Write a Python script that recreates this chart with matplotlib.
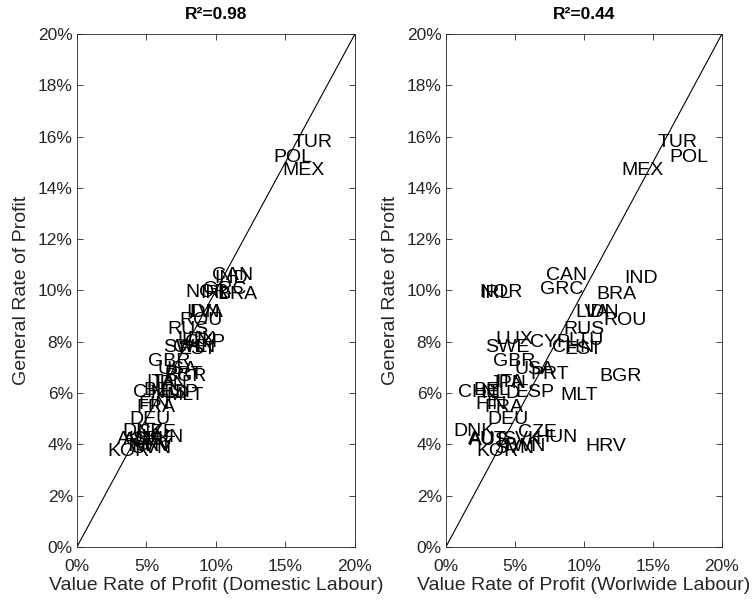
import numpy as np
import matplotlib
matplotlib.use('Agg')
from matplotlib import pyplot as plt
from matplotlib.ticker import FuncFormatter

# country codes
paises = ['TUR', 'POL', 'MEX', 'IND', 'CAN', 'GRC', 'NOR', 'IRL', 'BRA', 'LVA',
          'IDN', 'ROU', 'RUS', 'LUX', 'CYP', 'LTU', 'CHN', 'EST', 'SWE', 'GBR',
          'USA', 'PRT', 'BGR', 'ITA', 'JPN', 'ESP', 'CHE', 'BEL', 'NLD', 'MLT',
          'FIN', 'FRA', 'DEU', 'CZE', 'DNK', 'AUT', 'AUS', 'SVK', 'HUN', 'HRV',
          'SVN', 'TWN', 'KOR']

# general rate of profit (%), same for both panels
grp = [15.76, 15.18, 14.67, 10.47, 10.58, 10.04, 9.92, 9.88, 9.84, 9.14,
       9.14, 8.83, 8.48, 8.10, 7.98, 8.05, 7.78, 7.70, 7.78, 7.24,
       6.93, 6.73, 6.65, 6.42, 6.35, 6.03, 6.03, 6.10, 5.98, 5.91,
       5.56, 5.45, 4.98, 4.47, 4.50, 4.20, 4.15, 4.20, 4.28, 3.93,
       3.85, 3.90, 3.70]

# value rate of profit, domestic labour (%)
vrp_dom = [15.5, 14.1, 14.75, 9.9, 9.7, 9.06, 7.77, 8.85, 10.1, 8.1,
           7.84, 7.4, 6.5, 7.2, 7.8, 7.5, 6.9, 7.3, 6.2, 5.1,
           5.8, 6.3, 6.3, 5.0, 5.3, 5.9, 4.0, 4.8, 5.3, 6.4,
           4.4, 4.3, 3.8, 4.3, 3.3, 2.9, 3.3, 4.0, 4.6, 3.9,
           3.9, 3.4, 2.2]

# value rate of profit, worldwide labour (%)
vrp_world = [15.36, 16.2, 12.7, 12.9, 7.25, 6.8, 2.45, 2.5, 10.9, 9.35,
             10.1, 11.4, 8.5, 3.55, 6.1, 8.9, 7.7, 8.6, 2.83, 3.4,
             5.0, 6.1, 11.15, 3.55, 3.2, 5.0, 0.87, 2.0, 2.6, 8.26,
             2.1, 2.8, 3.0, 5.2, 0.5, 1.6, 1.7, 4.1, 6.45, 10.1,
             3.5, 4.0, 2.2]

titulos = ['R²=0.98', 'R²=0.44']
xlabels = ['Value Rate of Profit (Domestic Labour)',
           'Value Rate of Profit (Worlwide Labour)']

plt.rcParams['font.family'] = ['Liberation Sans', 'DejaVu Sans']
gris = '#262626'

fig = plt.figure(figsize=(7.54, 6.05), dpi=100)
pos = [[0.1021, 0.0962, 0.3687, 0.8476], [0.5915, 0.0962, 0.3660, 0.8476]]
pct = FuncFormatter(lambda v, p: '%d%%' % v)

for i, xs in enumerate([vrp_dom, vrp_world]):
    ax = fig.add_axes(pos[i])
    ax.plot([0, 20], [0, 20], color='black', lw=0.8)
    for nombre, x, y in zip(paises, xs, grp):
        ax.text(x, y, nombre, ha='left', va='center', fontsize=14,
                color='black')
    ax.set_xlim(0, 20)
    ax.set_ylim(0, 20)
    ax.set_xticks(np.arange(0, 21, 5))
    ax.set_yticks(np.arange(0, 21, 2))
    ax.xaxis.set_major_formatter(pct)
    ax.yaxis.set_major_formatter(pct)
    ax.tick_params(direction='in', length=4, width=0.6, colors=gris,
                   labelsize=12.5, top=True, right=True)
    ax.tick_params(axis='x', pad=9)
    ax.tick_params(axis='y', pad=3)
    for s in ax.spines.values():
        s.set_color(gris)
        s.set_linewidth(0.6)
    ax.set_title(titulos[i], fontsize=12.5, fontweight='bold', color='black',
                 pad=11)
    ax.set_xlabel(xlabels[i], fontsize=14, color=gris, labelpad=2)
    ax.set_ylabel('General Rate of Profit', fontsize=14, color=gris,
                  labelpad=6)

plt.savefig('out.png', dpi=100)
